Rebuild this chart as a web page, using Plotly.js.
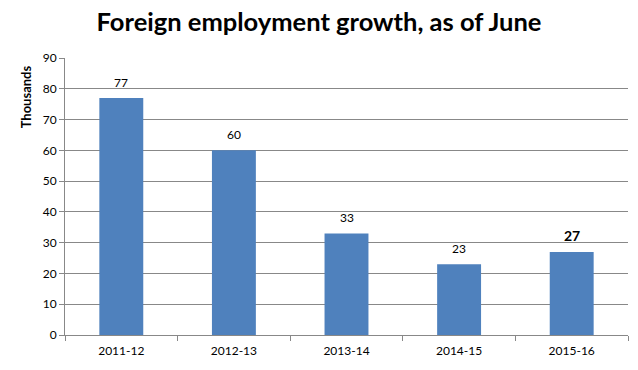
<!DOCTYPE html>
<html><head><meta charset="utf-8">
<script src="https://cdn.plot.ly/plotly-3.0.1.min.js"></script>
<style>body{margin:0;background:#fff}#c{width:638px;height:370px}</style>
</head><body><div id="c"></div>
<script>
const categories = ["2011-12","2012-13","2013-14","2014-15","2015-16"];
const values = [77,60,33,23,27];
const labels = ["77","60","33","23","<b>27</b>"];
const labelSizes = [12,12,12,12,14];
const yTicks = [0,10,20,30,40,50,60,70,80,90];

const font = "Lato, 'Open Sans', sans-serif";
const valueAnnotations = categories.map((c, i) => ({
  x:c, y:values[i], xref:'x', yref:'y', text:labels[i], showarrow:false,
  yanchor:'bottom', yshift:6, font:{family:font, size:labelSizes[i], color:'#000'}
}));
Plotly.newPlot('c', [{
  type:'bar', x:categories, y:values,
  marker:{color:'#4F81BD'}, hoverinfo:'none'
}], {
  width:638, height:370,
  margin:{l:65, r:10, t:58, b:35},
  paper_bgcolor:'#fff', plot_bgcolor:'#fff',
  bargap:0.61,
  showlegend:false,
  title:{text:'<b>Foreign employment growth, as of June</b>', x:0.5, xanchor:'center', y:0.94, yanchor:'middle',
    font:{family:font, size:25.5, color:'#000'}},
  xaxis:{type:'category', showgrid:false, showline:true, linecolor:'#888', linewidth:1, ticks:'outside', tickson:'boundaries',
    ticklen:5, tickcolor:'#888', ticklabelstandoff:5, tickfont:{family:font, size:12, color:'#000'}},
  yaxis:{range:[0,90], tickvals:yTicks, showgrid:true, gridcolor:'#888', gridwidth:1,
    showline:true, linecolor:'#888', ticks:'outside', ticklen:5, tickcolor:'#888', zeroline:false,
    tickfont:{family:font, size:12, color:'#000'}},
  annotations:[{text:'<b>Thousands</b>', xref:'paper', yref:'paper', x:-0.07, y:0.86,
    textangle:-90, showarrow:false, font:{family:font, size:13, color:'#000'}, xanchor:'center', yanchor:'middle'}]
    .concat(valueAnnotations)
}, {staticPlot:true});
</script></body></html>
